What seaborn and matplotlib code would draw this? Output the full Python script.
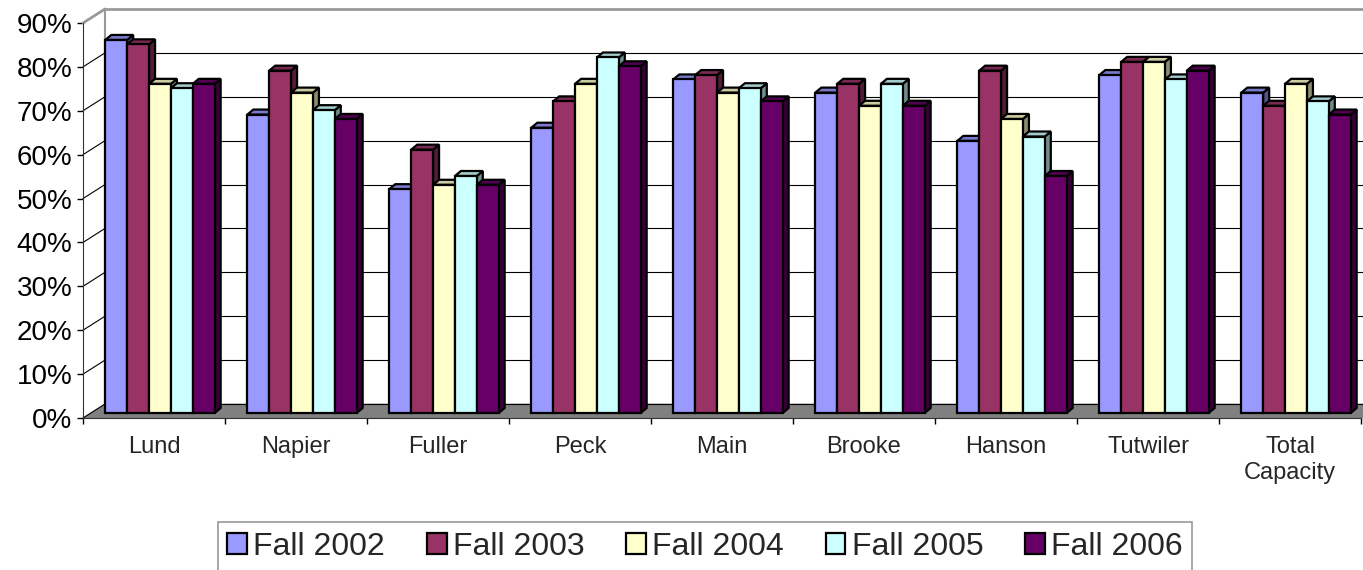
import numpy as np
import pandas as pd
import matplotlib
matplotlib.use("Agg")
import matplotlib.pyplot as plt
from matplotlib.patches import Polygon, Rectangle
from matplotlib.transforms import ScaledTranslation
import seaborn as sns

sns.set_style("white")
plt.rcParams['font.family'] = ['Liberation Sans', 'DejaVu Sans']

halls = ["Lund", "Napier", "Fuller", "Peck", "Main", "Brooke", "Hanson",
         "Tutwiler", "Total\nCapacity"]
terms = ["Fall 2002", "Fall 2003", "Fall 2004", "Fall 2005", "Fall 2006"]
fall_2002 = [0.85, 0.68, 0.51, 0.65, 0.76, 0.73, 0.62, 0.77, 0.73]
fall_2003 = [0.84, 0.78, 0.60, 0.71, 0.77, 0.75, 0.78, 0.80, 0.70]
fall_2004 = [0.75, 0.73, 0.52, 0.75, 0.73, 0.70, 0.67, 0.80, 0.75]
fall_2005 = [0.74, 0.69, 0.54, 0.81, 0.74, 0.75, 0.63, 0.76, 0.71]
fall_2006 = [0.75, 0.67, 0.52, 0.79, 0.71, 0.70, 0.54, 0.78, 0.68]
colors = ["#9999FF", "#993366", "#FFFFCC", "#CCFFFF", "#660066"]

series = [fall_2002, fall_2003, fall_2004, fall_2005, fall_2006]
df = pd.DataFrame({
    "hall": halls * len(terms),
    "term": np.repeat(terms, len(halls)),
    "rate": np.concatenate(series),
})

W, H = 1363, 570
fig = plt.figure(figsize=(W / 100, H / 100), dpi=100)
ax = fig.add_axes([83 / W, 152 / H, 1278 / W, 395 / H])

sns.barplot(data=df, x="hall", y="rate", hue="term", palette=colors,
            width=0.77, edgecolor="black", linewidth=1.6, saturation=1,
            ax=ax)
handles, labels = ax.get_legend_handles_labels()
ax.get_legend().remove()
bars = [p for p in ax.patches if isinstance(p, Rectangle) and p.get_height() > 0]

ax.set_xlim(-0.5, len(halls) - 0.5)
ax.set_ylim(0, 0.9)

# pixel -> data unit helpers
ppx = ax.bbox.width / len(halls)
ppy = ax.bbox.height / 0.9

# walls / floor depth
wdx, wdy = 22 / ppx, 14 / ppy
x0, x1 = -0.5, len(halls) - 0.5 + 0.3
floor = Polygon([(x0, 0), (x1, 0), (x1 + wdx, wdy), (x0 + wdx, wdy)],
                closed=True, facecolor="#808080", edgecolor="#808080",
                lw=0.5, zorder=1, clip_on=False)
ax.add_patch(floor)
for v in np.arange(0, 0.91, 0.1):
    top = v > 0.85
    c, lw = ("#999999", 2) if top else ("black", 0.8)
    ax.plot([x0 + wdx, x1 + wdx], [v + wdy, v + wdy], color=c, lw=lw,
            zorder=1.5, clip_on=False, solid_capstyle="butt")
    ax.plot([x0, x0 + wdx], [v, v + wdy], color=c, lw=lw, zorder=1.5,
            clip_on=False)
ax.plot([x0 + wdx, x0 + wdx], [wdy, 0.9 + wdy], color="#999999", lw=1.5,
        zorder=1.5, clip_on=False)

# bars sit a little behind the front plane; add top and side faces
bar_shift = ax.transData + ScaledTranslation(6 / 100, 5 / 100,
                                             fig.dpi_scale_trans)
bdx, bdy = 6 / ppx, 5 / ppy
for k, p in enumerate(bars):
    z = 3 + k * 0.01
    p.set_transform(bar_shift)
    p.set_zorder(z)
    fc = np.array(p.get_facecolor()[:3])
    x, w, h = p.get_x(), p.get_width(), p.get_height()
    top_face = Polygon([(x, h), (x + w, h), (x + w + bdx, h + bdy),
                        (x + bdx, h + bdy)], closed=True,
                       facecolor=fc * 0.8, edgecolor="black", lw=1.6,
                       transform=bar_shift, zorder=z - 0.001, clip_on=False)
    side_face = Polygon([(x + w, 0), (x + w + bdx, bdy),
                         (x + w + bdx, h + bdy), (x + w, h)], closed=True,
                        facecolor=fc * 0.55, edgecolor="black", lw=1.6,
                        transform=bar_shift, zorder=z - 0.002, clip_on=False)
    ax.add_patch(top_face)
    ax.add_patch(side_face)

# axes styling
for s in ["top", "right"]:
    ax.spines[s].set_visible(False)
ax.spines["left"].set_color("#333333")
ax.spines["bottom"].set_color("#333333")
ax.set_xlabel("")
ax.set_ylabel("")
ax.set_yticks(np.arange(0, 0.91, 0.1))
ax.set_yticklabels([f"{int(round(v * 100))}%" for v in np.arange(0, 0.91, 0.1)])
ax.tick_params(axis="y", labelsize=20, length=4.5, width=1, pad=3,
               direction="out", left=True, colors="black")
ax.set_xticks(range(len(halls)))
ax.set_xticklabels(halls, linespacing=1.25)
ax.set_xticks(np.arange(-0.5, len(halls), 1), minor=True)
ax.tick_params(axis="x", which="major", length=0, labelsize=17, pad=13)
ax.tick_params(axis="x", which="minor", length=4.5, width=1,
               direction="out", bottom=True, color="black")
ax.grid(False)

leg = fig.legend(handles, labels, loc="upper center",
                 bbox_to_anchor=(705 / W, 1 - 522 / H), ncol=5,
                 fontsize=23, frameon=True, fancybox=False,
                 edgecolor="#808080", handlelength=0.62, handleheight=0.62,
                 handletextpad=0.2, columnspacing=1.3, borderpad=0.3,
                 borderaxespad=0)
leg.get_frame().set_linewidth(1.2)
for hd in leg.legend_handles:
    hd.set_edgecolor("black")
    hd.set_linewidth(1.6)

fig.savefig("out.png", dpi=100)
